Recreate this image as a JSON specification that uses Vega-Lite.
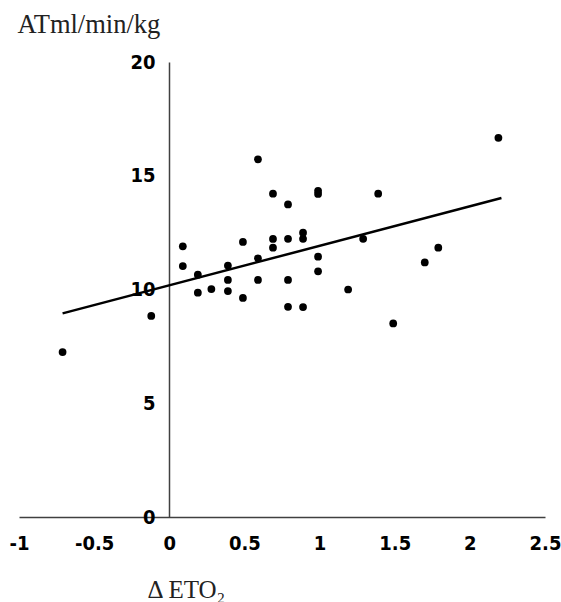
{
  "$schema": "https://vega.github.io/schema/vega-lite/v6.json",
  "autosize": "none",
  "width": 526,
  "height": 455,
  "padding": {"left": 19, "top": 62, "right": 16, "bottom": 85},
  "background": "white",
  "config": {"view": {"stroke": null}},
  "datasets": {
    "points": [
      {"x": -0.71, "y": 7.25}, {"x": -0.12, "y": 8.84}, {"x": 0.09, "y": 11.9}, {"x": 0.09, "y": 11.03},
      {"x": 0.19, "y": 10.65}, {"x": 0.19, "y": 9.86}, {"x": 0.28, "y": 10.02}, {"x": 0.39, "y": 11.05},
      {"x": 0.39, "y": 10.42}, {"x": 0.39, "y": 9.93}, {"x": 0.49, "y": 12.09}, {"x": 0.49, "y": 9.63},
      {"x": 0.59, "y": 15.72}, {"x": 0.59, "y": 11.37}, {"x": 0.59, "y": 10.42}, {"x": 0.69, "y": 14.21},
      {"x": 0.69, "y": 12.22}, {"x": 0.69, "y": 11.84}, {"x": 0.79, "y": 13.74}, {"x": 0.79, "y": 12.23},
      {"x": 0.79, "y": 10.42}, {"x": 0.79, "y": 9.24}, {"x": 0.89, "y": 12.5}, {"x": 0.89, "y": 12.23},
      {"x": 0.89, "y": 9.23}, {"x": 0.99, "y": 14.34}, {"x": 0.99, "y": 14.2}, {"x": 0.99, "y": 11.44},
      {"x": 0.99, "y": 10.8}, {"x": 1.19, "y": 10.0}, {"x": 1.29, "y": 12.23}, {"x": 1.39, "y": 14.21},
      {"x": 1.49, "y": 8.51}, {"x": 1.7, "y": 11.19}, {"x": 1.79, "y": 11.84}, {"x": 2.19, "y": 16.67}
    ],
    "fit": [{"x": -0.71, "y": 8.95}, {"x": 2.21, "y": 14.02}]
  },
  "encoding": {
    "x": {
      "field": "x", "type": "quantitative",
      "scale": {"domain": [-1, 2.5], "nice": false, "zero": false},
      "axis": {
        "values": [-1, -0.5, 0, 0.5, 1, 1.5, 2, 2.5],
        "labelExpr": "datum.value + ''",
        "grid": false, "ticks": false,
        "domainColor": "#404040", "domainWidth": 1.5,
        "labelFont": "DejaVu Sans Condensed", "labelFontWeight": "bold", "labelFontSize": 20, "labelColor": "#000000",
        "labelPadding": 16, "labelFlush": false,
        "title": "Δ  ETO₂",
        "titleFont": "Liberation Serif", "titleFontWeight": "normal", "titleFontSize": 25, "titleColor": "#222222",
        "titleAlign": "left", "titleBaseline": "alphabetic", "titleX": 128, "titleY": 80
      }
    },
    "y": {
      "field": "y", "type": "quantitative",
      "scale": {"domain": [0, 20], "nice": false},
      "axis": {
        "values": [0, 5, 10, 15, 20],
        "labelExpr": "datum.value + ''",
        "offset": -150,
        "grid": false, "ticks": false,
        "domainColor": "#404040", "domainWidth": 1.5,
        "labelFont": "DejaVu Sans Condensed", "labelFontWeight": "bold", "labelFontSize": 20, "labelColor": "#000000",
        "labelPadding": 14, "labelFlush": false,
        "title": "ATml/min/kg",
        "titleFont": "Liberation Serif", "titleFontWeight": "normal", "titleFontSize": 26.5, "titleColor": "#222222",
        "titleAngle": 0, "titleAlign": "left", "titleBaseline": "alphabetic", "titleX": -152, "titleY": -30
      }
    }
  },
  "layer": [
    {
      "data": {"name": "fit"},
      "mark": {"type": "line", "color": "#000000", "strokeWidth": 2.5}
    },
    {
      "data": {"name": "points"},
      "mark": {"type": "point", "filled": true, "color": "#000000", "opacity": 1, "size": 60}
    }
  ]
}
